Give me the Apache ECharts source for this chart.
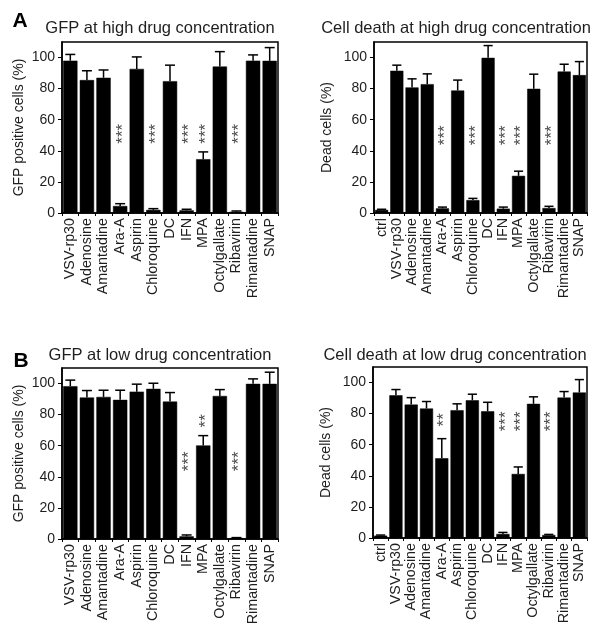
<!DOCTYPE html>
<html>
<head>
<meta charset="utf-8">
<script src="https://cdn.jsdelivr.net/npm/echarts@6/dist/echarts.min.js"></script>
<style>
html,body{margin:0;padding:0;background:#fff;}
#c{width:602px;height:634px;}
</style>
</head>
<body>
<div id="c"></div>
<script>
// ---------- DATA ----------
var catsGFP = ['VSV-rp30','Adenosine','Amantadine','Ara-A','Aspirin','Chloroquine','DC','IFN','MPA','Octylgallate','Ribavirin','Rimantadine','SNAP'];
var catsDeath = ['ctrl','VSV-rp30','Adenosine','Amantadine','Ara-A','Aspirin','Chloroquine','DC','IFN','MPA','Octylgallate','Ribavirin','Rimantadine','SNAP'];

var yTicks = [0, 20, 40, 60, 80, 100];

// Panel A: GFP at high drug concentration
var gfpHighMean = [98, 85.5, 87, 4.5, 92.7, 2, 84.8, 1.7, 34.6, 94.2, 0.8, 98, 97.9];
var gfpHighErr  = [102, 91.5, 92, 6, 100.4, 2.8, 95.1, 2.4, 39.3, 103.8, 1.3, 101.7, 106.4];
var gfpHighStars = ['', '', '', '***', '', '***', '', '***', '***', '', '***', '', ''];
var gfpHighStarY = [null, null, null, 51, null, 51, null, 51, 51, null, 51, null, null];

// Panel B: Cell death at high drug concentration
var deathHighMean = [2, 91.5, 80.8, 82.9, 3, 78.8, 8.3, 99.8, 2.8, 23.9, 79.9, 3.2, 91, 88.7];
var deathHighErr  = [2.4, 95.1, 86.3, 89.5, 3.8, 85.5, 9.4, 107.7, 3.8, 26.9, 89.3, 4.3, 95.7, 97.4];
var deathHighStars = ['', '', '', '', '***', '', '***', '', '***', '***', '', '***', '', ''];
var deathHighStarY = [null, null, null, null, 50, null, 50, null, 50, 50, null, 50, null, null];

// Panel C: GFP at low drug concentration
var gfpLowMean = [98.3, 91, 91.4, 89.5, 94.8, 96.6, 88.4, 1.7, 60.2, 92, 0.6, 99.8, 99.8];
var gfpLowErr  = [102.2, 95.5, 95.7, 95.7, 99.6, 100.2, 94.2, 2.6, 66.5, 96.1, 0.9, 103, 107.3];
var gfpLowStars = ['', '', '', '', '', '', '', '***', '**', '', '***', '', ''];
var gfpLowStarY = [null, null, null, null, null, null, null, 50, 76, null, 50, null, null];

// Panel D: Cell death at low drug concentration
var deathLowMean = [1.5, 91.8, 85.8, 83.3, 51.3, 82.2, 88.6, 81.5, 2.6, 41.2, 86.3, 1.9, 90.3, 93.6];
var deathLowErr  = [1.9, 95.5, 90.3, 87.8, 63.9, 86.3, 92.5, 87.3, 3.6, 45.7, 90.8, 2.3, 94.2, 101.9];
var deathLowStars = ['', '', '', '', '**', '', '', '', '***', '***', '', '***', '', ''];
var deathLowStarY = [null, null, null, null, 76, null, null, null, 75, 75, null, 75, null, null];

// ---------- CHART ----------
var FONT = '"Liberation Sans", Arial, Helvetica, sans-serif';
var TXT = '#1e1e1e';

var panels = [
  {cats: catsGFP, mean: gfpHighMean, err: gfpHighErr, stars: gfpHighStars, starY: gfpHighStarY,
   yName: 'GFP positive cells (%)', grid: {left: 62, top: 42, width: 216, height: 171}, nameGap: 36},
  {cats: catsDeath, mean: deathHighMean, err: deathHighErr, stars: deathHighStars, starY: deathHighStarY,
   yName: 'Dead cells (%)', grid: {left: 374, top: 42, width: 213, height: 171}, nameGap: 40},
  {cats: catsGFP, mean: gfpLowMean, err: gfpLowErr, stars: gfpLowStars, starY: gfpLowStarY,
   yName: 'GFP positive cells (%)', grid: {left: 62, top: 368, width: 216, height: 171}, nameGap: 36},
  {cats: catsDeath, mean: deathLowMean, err: deathLowErr, stars: deathLowStars, starY: deathLowStarY,
   yName: 'Dead cells (%)', grid: {left: 373, top: 367, width: 214, height: 171}, nameGap: 40}
];

var grids = [], xAxes = [], yAxes = [], series = [];
panels.forEach(function (p, i) {
  grids.push(Object.assign({show: true, borderColor: '#000', borderWidth: 1.5, backgroundColor: 'transparent'}, p.grid));
  xAxes.push({
    type: 'category', gridIndex: i, data: p.cats,
    axisLine: {lineStyle: {color: '#000', width: 1.5}},
    axisTick: {show: true, length: 3, lineStyle: {color: '#000', width: 1}},
    axisLabel: {interval: 0, rotate: 90, fontSize: 14.3, color: TXT, fontFamily: FONT, margin: 5}
  });
  yAxes.push({
    type: 'value', gridIndex: i, min: 0, max: 110, interval: 20,
    name: p.yName, nameLocation: 'middle', nameGap: p.nameGap, nameRotate: 90,
    nameTextStyle: {fontSize: 14, color: TXT, fontFamily: FONT},
    splitLine: {show: false},
    axisLine: {show: true, lineStyle: {color: '#000', width: 1.5}},
    axisTick: {show: true, length: 4, lineStyle: {color: '#000', width: 1}, customValues: yTicks},
    axisLabel: {fontSize: 14, color: TXT, fontFamily: FONT, margin: 7, customValues: yTicks}
  });
  series.push({
    type: 'bar', xAxisIndex: i, yAxisIndex: i, data: p.mean,
    barCategoryGap: '14%',
    itemStyle: {color: '#000', borderColor: '#000', borderWidth: 0.5},
    silent: true, animation: false
  });
  var errData = p.mean.map(function (m, k) { return [k, m, p.err[k]]; });
  series.push({
    type: 'custom', xAxisIndex: i, yAxisIndex: i, data: errData, animation: false, silent: true,
    renderItem: function (params, api) {
      var idx = api.value(0);
      var base = api.coord([idx, api.value(1)]);
      var top = api.coord([idx, api.value(2)]);
      var hw = api.size([1, 0])[0] * 0.3;
      var st = {stroke: '#000', lineWidth: 1.5};
      return {type: 'group', children: [
        {type: 'line', shape: {x1: base[0], y1: base[1], x2: top[0], y2: top[1]}, style: st},
        {type: 'line', shape: {x1: top[0] - hw, y1: top[1], x2: top[0] + hw, y2: top[1]}, style: st}
      ]};
    },
    encode: {x: 0, y: 2}
  });
  var starData = [];
  p.stars.forEach(function (s, k) {
    if (s) starData.push({value: [p.cats[k], p.starY[k]], name: s});
  });
  series.push({
    type: 'scatter', xAxisIndex: i, yAxisIndex: i, data: starData, symbolSize: 1,
    itemStyle: {color: 'rgba(0,0,0,0)'}, silent: true, animation: false,
    label: {show: true, position: 'inside', formatter: '{b}', rotate: 90, fontSize: 17,
            offset: [0, 3], color: '#222', fontFamily: FONT}
  });
});

var titles = [
  {text: 'GFP at high drug concentration', x: 160, y: 28},
  {text: 'Cell death at high drug concentration', x: 456, y: 28},
  {text: 'GFP at low drug concentration', x: 160, y: 355},
  {text: 'Cell death at low drug concentration', x: 455, y: 355}
];
var graphic = titles.map(function (t) {
  return {type: 'text', x: t.x, y: t.y, style: {text: t.text, fontSize: 16.5, fill: TXT, fontFamily: FONT,
          textAlign: 'center', textVerticalAlign: 'middle'}};
});
graphic.push({type: 'text', x: 20, y: 21, style: {text: 'A', fontSize: 21, fontWeight: 'bold', fill: '#000',
              fontFamily: FONT, textAlign: 'center', textVerticalAlign: 'middle'}});
graphic.push({type: 'text', x: 21, y: 361, style: {text: 'B', fontSize: 21, fontWeight: 'bold', fill: '#000',
              fontFamily: FONT, textAlign: 'center', textVerticalAlign: 'middle'}});

var chart = echarts.init(document.getElementById('c'), null, {renderer: 'canvas'});
chart.setOption({
  animation: false,
  backgroundColor: '#fff',
  grid: grids, xAxis: xAxes, yAxis: yAxes, series: series, graphic: graphic
});
</script>
</body>
</html>
